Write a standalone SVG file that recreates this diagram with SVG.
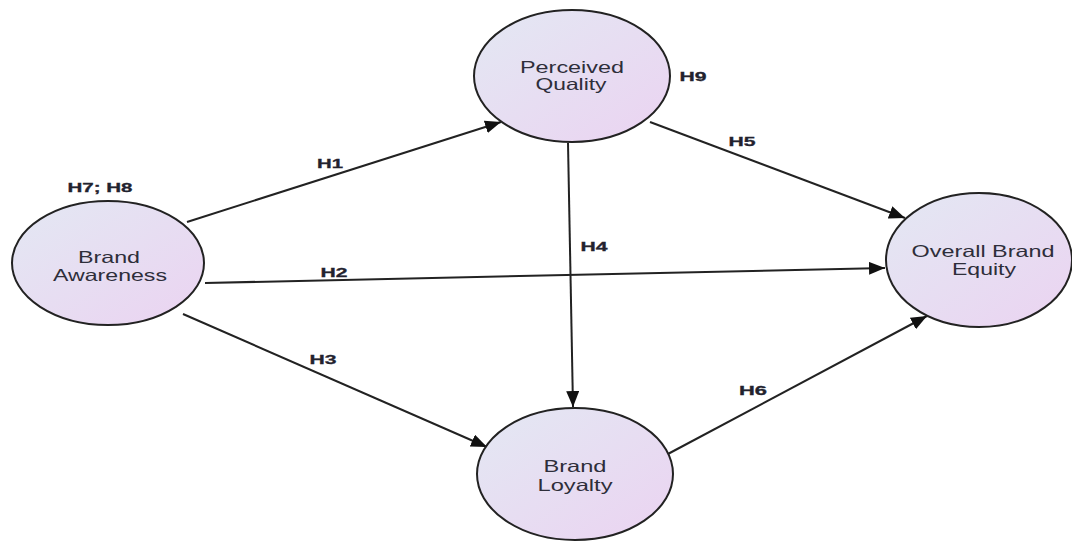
<svg xmlns="http://www.w3.org/2000/svg" width="1072" height="542" viewBox="0 0 1072 542">
<defs>
<linearGradient id="g" x1="0" y1="0" x2="1" y2="1">
<stop offset="0" stop-color="#e3e8f3"/>
<stop offset="1" stop-color="#ebd3f1"/>
</linearGradient>
<marker id="ah" viewBox="0 0 16 13" refX="16" refY="6.5" markerWidth="16" markerHeight="13" markerUnits="userSpaceOnUse" orient="auto">
<path d="M0,0 L16,6.5 L0,13 z" fill="#111"/>
</marker>
<style>
.n{fill:url(#g);stroke:#222;stroke-width:2}
.t{font-family:"Liberation Sans",Arial,sans-serif;font-size:16.5px;fill:#2e2e3a;text-anchor:middle}
.l{font-family:"Liberation Sans",Arial,sans-serif;font-size:13px;font-weight:bold;fill:#22222e;text-anchor:middle;stroke:#22222e;stroke-width:0.3}
.e{stroke:#222;stroke-width:2;fill:none;marker-end:url(#ah)}
</style>
</defs>
<rect width="1072" height="542" fill="#fff"/>
<g id="connectors">
<line class="e" x1="187" y1="222" x2="501" y2="122"/>
<line class="e" x1="205" y1="283" x2="885" y2="268"/>
<line class="e" x1="183" y1="314" x2="487" y2="447"/>
<line class="e" x1="568" y1="143" x2="573" y2="407"/>
<line class="e" x1="650" y1="122" x2="905" y2="218"/>
<line class="e" x1="666" y1="455" x2="927" y2="316"/>
<text class="l" x="330" y="168" textLength="26" lengthAdjust="spacingAndGlyphs">H1</text>
<text class="l" x="334" y="277" textLength="27" lengthAdjust="spacingAndGlyphs">H2</text>
<text class="l" x="323" y="364" textLength="27" lengthAdjust="spacingAndGlyphs">H3</text>
<text class="l" x="594" y="251" textLength="27" lengthAdjust="spacingAndGlyphs">H4</text>
<text class="l" x="742" y="146" textLength="27" lengthAdjust="spacingAndGlyphs">H5</text>
<text class="l" x="753" y="395" textLength="28" lengthAdjust="spacingAndGlyphs">H6</text>
</g>
<g id="brand-awareness">
<ellipse class="n" cx="108" cy="263" rx="96" ry="62"/>
<text class="t" x="109" y="263" textLength="62" lengthAdjust="spacingAndGlyphs">Brand</text>
<text class="t" x="110" y="281" textLength="114" lengthAdjust="spacingAndGlyphs">Awareness</text>
<text class="l" x="100" y="192" textLength="65" lengthAdjust="spacingAndGlyphs">H7; H8</text>
</g>
<g id="perceived-quality">
<ellipse class="n" cx="572" cy="76" rx="98" ry="66"/>
<text class="t" x="572" y="73" textLength="104" lengthAdjust="spacingAndGlyphs">Perceived</text>
<text class="t" x="571" y="90" textLength="71" lengthAdjust="spacingAndGlyphs">Quality</text>
<text class="l" x="693" y="81" textLength="27" lengthAdjust="spacingAndGlyphs">H9</text>
</g>
<g id="overall-brand-equity">
<ellipse class="n" cx="979" cy="260" rx="93" ry="67"/>
<text class="t" x="983" y="257" textLength="143" lengthAdjust="spacingAndGlyphs">Overall Brand</text>
<text class="t" x="984" y="275" textLength="64" lengthAdjust="spacingAndGlyphs">Equity</text>
</g>
<g id="brand-loyalty">
<ellipse class="n" cx="575" cy="474" rx="98" ry="66"/>
<text class="t" x="575" y="472" textLength="63" lengthAdjust="spacingAndGlyphs">Brand</text>
<text class="t" x="575" y="491" textLength="75" lengthAdjust="spacingAndGlyphs">Loyalty</text>
</g>
</svg>
